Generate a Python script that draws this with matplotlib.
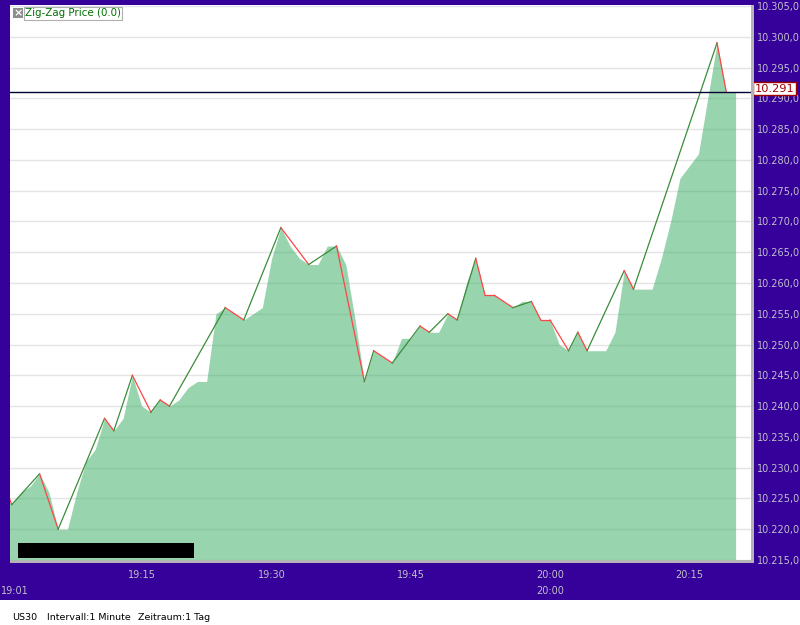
import numpy as np
import matplotlib.pyplot as plt
from matplotlib.patches import Rectangle

plt.rcParams['font.family'] = 'DejaVu Sans'

# close price of each 1-minute bar (first value = bar just left of the window)
close = [10226, 10224, 10226, 10227, 10229, 10226, 10220, 10220, 10226, 10231,
         10233, 10238, 10236, 10238, 10245, 10240, 10239, 10241, 10240, 10241,
         10243, 10244, 10244, 10255, 10256, 10255, 10254, 10255, 10256, 10264,
         10269, 10266, 10264, 10263, 10263, 10266, 10266, 10263, 10254, 10244,
         10249, 10248, 10247, 10251, 10251, 10253, 10252, 10252, 10255, 10254,
         10260, 10264, 10258, 10258, 10257, 10256, 10257, 10257, 10254, 10254,
         10250, 10249, 10252, 10249, 10249, 10249, 10252, 10262, 10259, 10259,
         10259, 10264, 10270, 10277, 10279, 10281, 10290, 10299, 10291, 10291]
bars = np.arange(-1, len(close) - 1)

# zig-zag pivots (bar index, price)
zz_bar = [-1, 0, 3, 5, 10, 11, 13, 15, 16, 17, 23, 25, 29, 32, 35, 38, 39, 41,
          44, 45, 47, 48, 50, 51, 52, 54, 56, 57, 58, 60, 61, 62, 66, 67, 76, 77]
zz_price = [10228, 10224, 10229, 10220, 10238, 10236, 10245, 10239, 10241, 10240,
            10256, 10254, 10269, 10263, 10266, 10244, 10249, 10247, 10253, 10252,
            10255, 10254, 10264, 10258, 10258, 10256, 10257, 10254, 10254, 10249,
            10252, 10249, 10262, 10259, 10299, 10291]

last_price = 10291
time_ticks = [14, 28, 43, 58, 73]
time_labels = ['19:15', '19:30', '19:45', '20:00', '20:15']
day_ticks = [0, 58]
day_labels = ['19:01', '20:00']
price_ticks = list(range(10215, 10306, 5))

frame = '#36009a'
label_gray = '#c0c0c8'
W, H = 800, 625


def px(x0, y0, x1, y1):
    # pixel box (top-left origin) -> figure fraction
    return [x0 / W, 1 - y1 / H, (x1 - x0) / W, (y1 - y0) / H]


def fmt_price(v):
    return '{:,.1f}'.format(v).replace(',', 'X').replace('.', ',').replace('X', '.')


fig = plt.figure(figsize=(8, 6.25), dpi=100, facecolor=frame)
ax = fig.add_axes(px(10, 5, 751, 560))
ax.set_facecolor('white')

# area + grid
ax.fill_between(bars, close, 10200, color='#33ad61', alpha=0.5, lw=0, zorder=2)
ax.set_yticks(price_ticks)
ax.grid(axis='y', color='#e4e4e4', lw=1.0, zorder=1)
ax.set_axisbelow(True)

# zig-zag: green up, red down
for i in range(len(zz_bar) - 1):
    up = zz_price[i + 1] > zz_price[i]
    ax.plot(zz_bar[i:i + 2], zz_price[i:i + 2], color='#3a8c3a' if up else '#ff4545',
            lw=0.9, zorder=4)

ax.axhline(last_price, color='#000033', lw=1.0, zorder=5)

ax.set_xlim(-0.19, 79.66)
ax.set_ylim(10215, 10305.16)

for s in ax.spines.values():
    s.set_visible(False)

ax.yaxis.tick_right()
ax.set_yticklabels([fmt_price(v) for v in price_ticks])
ax.tick_params(axis='y', length=0, pad=4.3, labelsize=7, labelcolor=label_gray)
ax.set_xticks(time_ticks, time_labels)
ax.tick_params(axis='x', length=0, pad=7.2, labelsize=7, labelcolor=label_gray)

# second row of time labels (session start / full hour)
for b, lab in zip(day_ticks, day_labels):
    if b == 0:
        fig.text(1 / W, 1 - 591 / H, lab, ha='left', va='center', fontsize=7,
                 color=label_gray)
    else:
        ax.text(b, -31 / 555, lab, transform=ax.get_xaxis_transform(), ha='center',
                va='center', fontsize=7, color=label_gray, clip_on=False)

# last price tag (sits a little above the line)
ax.annotate(fmt_price(last_price)[:-2], xy=(1.0055, last_price),
            xycoords=ax.get_yaxis_transform(), xytext=(0, 2.6), textcoords='offset points',
            ha='left', va='center', fontsize=8.2, color='#a00000', zorder=10,
            annotation_clip=False,
            bbox=dict(boxstyle='square,pad=0.14', fc='white', ec='#a00000', lw=1))

# gray frame edges
fig.patches.append(Rectangle(px(751, 5, 754, 563)[:2], 3 / W, 558 / H,
                             transform=fig.transFigure, fc='#b4b4b4', ec='none'))
fig.patches.append(Rectangle(px(10, 560, 754, 563)[:2], 744 / W, 3 / H,
                             transform=fig.transFigure, fc='#b4b4b4', ec='none'))

# redacted box
fig.patches.append(Rectangle(px(18, 543, 194, 558)[:2], 176 / W, 15 / H,
                             transform=fig.transFigure, fc='black', ec='none', zorder=20))

# legend
fig.patches.append(Rectangle(px(13, 8, 23, 18)[:2], 10 / W, 10 / H,
                             transform=fig.transFigure, fc='#8c8c8c', ec='none', zorder=20))
fig.text(18 / W, 1 - 13 / H, '×', color='white', fontsize=8, fontweight='bold',
         ha='center', va='center', zorder=21)
fig.text(25 / W, 1 - 13.5 / H, 'Zig-Zag Price (0.0)', color='#007000', fontsize=7.4,
         va='center', zorder=21,
         bbox=dict(boxstyle='square,pad=0.1', fc='white', ec='#b0b0b0', lw=0.8))

# status strip at the bottom
fig.patches.append(Rectangle((0, 0), 1, 25 / H, transform=fig.transFigure,
                             fc='white', ec='none'))
for x, txt in [(11.7, 'US30'), (46.7, 'Intervall:1 Minute'), (138.3, 'Zeitraum:1 Tag')]:
    fig.text(x / W, 1 - 617 / H, txt, fontsize=6.8, va='center', color='black')

fig.savefig('out.png', dpi=100, facecolor=frame)
